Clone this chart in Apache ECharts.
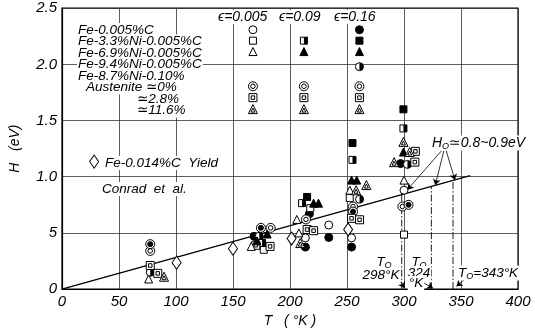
<!DOCTYPE html>
<html>
<head>
<meta charset="utf-8">
<script src="https://cdn.jsdelivr.net/npm/echarts@6/dist/echarts.min.js"></script>
<style>
html,body{margin:0;padding:0;background:#fff}
#chart{width:535px;height:333px}
</style>
</head>
<body>
<div id="chart"></div>
<script>
// T (K), H (eV)
var openCircle = [[213.5,0.456],[234,0.57],[254,0.456],[300,0.88]];
var filledCircle = [[168.5,0.47],[217,0.67],[213.5,0.374],[234,0.46],[254,0.374],[297,1.117]];
var halfCircle = [[77.4,0.15],[173,0.47],[261,0.80],[303,1.11]];
var ringCircle = [[77.4,0.34],[183,0.545],[214,0.62],[255.3,0.735],[298.6,0.735]];
var dotCircle = [[77.4,0.40],[174.5,0.545],[255.3,0.69],[304,0.75]];
var openSquare = [[177,0.35],[217.8,0.72],[252.4,0.81],[300,0.485]];
var filledSquare = [[215,0.82],[254.8,1.30],[299.5,1.60]];
var halfSquare = [[210.6,0.765],[254.8,1.15],[299.5,1.43],[175.5,0.41]];
var boxSquare = [[77.4,0.21],[84,0.14],[170,0.39],[182.5,0.38],[215,0.53],[220.7,0.52],[254,0.63],[261,0.617],[310,1.226],[309.5,1.13]];
var openTriangle = [[166,0.38],[206,0.62],[207.8,0.50],[252.5,0.88],[300,0.97],[76,0.09]];
var filledTriangle = [[180,0.49],[220.7,0.765],[225,0.765],[254,0.97],[258.5,0.97],[299.5,1.22],[171,0.43]];
var triTriangle = [[89.5,0.11],[258,0.88],[267,0.926],[291.3,1.13],[299.5,1.31],[305,1.22],[209,0.41]];
var conradYield = [[100.5,0.235],[150,0.36],[201.4,0.45],[251,0.53]];

var fitLine = [[0,0],[358,1.01]];
var t0Values = [298, 324, 343];

var xTicks = [0,50,100,150,200,250,300,350,400];
var yTickLabels = {'0':'0','0.5':'5','1':'1.0','1.5':'1.5','2':'2.0','2.5':'2.5'};

// key table: columns = strain, rows = composition
var keyColsT = [167.5, 212.2, 260.9];
var keyRowsH = [2.308, 2.211, 2.114, 1.98, 1.805, 1.704, 1.602];
var keyEntries = [
  ['openCircle',0,0],['openSquare',0,1],['openTriangle',0,2],['ringCircle',0,4],['boxSquare',0,5],['triTriangle',0,6],
  ['halfSquare',1,1],['filledTriangle',1,2],['ringCircle',1,4],['boxSquare',1,5],['triTriangle',1,6],
  ['filledCircle',2,0],['filledSquare',2,1],['filledTriangle',2,2],['halfCircle',2,3],['ringCircle',2,4],['boxSquare',2,5],['triTriangle',2,6]
];

var HALF_DISC = 'path://M0,0A10,10,0,0,1,0,20Z';
var shapes = {
  openCircle: [{s:'circle', z:8, f:'#fff'}],
  filledCircle: [{s:'circle', z:8, f:'#000'}],
  halfCircle: [{s:'circle', z:8, f:'#fff'}, {s:HALF_DISC, z:[4,8], f:'#000', off:[2,0], b:0}],
  ringCircle: [{s:'circle', z:9, f:'#fff'}, {s:'circle', z:4.5, f:'#fff'}],
  dotCircle: [{s:'circle', z:9, f:'#fff'}, {s:'circle', z:5, f:'#000'}],
  openSquare: [{s:'rect', z:7, f:'#fff'}],
  filledSquare: [{s:'rect', z:7, f:'#000'}],
  halfSquare: [{s:'rect', z:7, f:'#fff'}, {s:'rect', z:[3.5,7], f:'#000', off:[1.75,0], b:0}],
  boxSquare: [{s:'rect', z:8, f:'#fff'}, {s:'rect', z:3.5, f:'#fff'}],
  openTriangle: [{s:'triangle', z:8, f:'#fff'}],
  filledTriangle: [{s:'triangle', z:8, f:'#000'}],
  triTriangle: [{s:'triangle', z:9, f:'#fff'}, {s:'triangle', z:4, f:'#fff', off:[0,1]}],
  diamond: [{s:'diamond', z:[9,13], f:'#fff'}]
};

var dataByType = {
  openCircle: openCircle, filledCircle: filledCircle, halfCircle: halfCircle,
  ringCircle: ringCircle, dotCircle: dotCircle, openSquare: openSquare,
  filledSquare: filledSquare, halfSquare: halfSquare, boxSquare: boxSquare,
  openTriangle: openTriangle, filledTriangle: filledTriangle, triTriangle: triTriangle,
  diamond: conradYield
};

// key points grouped by type
var keyByType = {};
keyEntries.forEach(function (e) {
  (keyByType[e[0]] = keyByType[e[0]] || []).push([keyColsT[e[1]], keyRowsH[e[2]]]);
});
keyByType.diamond = [[28.2, 1.135]];

var series = [];
function addLayers(type, data) {
  shapes[type].forEach(function (l) {
    series.push({
      type: 'scatter', silent: true, data: data,
      symbol: l.s, symbolSize: l.z, symbolOffset: l.off || [0,0],
      itemStyle: {color: l.f, borderColor: '#000', borderWidth: l.b === 0 ? 0 : 1, opacity: 1},
      z: 5
    });
  });
}

// fitted line
series.push({
  type: 'line', data: fitLine, symbol: 'none', silent: true,
  lineStyle: {color: '#000', width: 1.4}, z: 3,
  markLine: {
    silent: true, symbol: ['none','arrow'], symbolSize: 6,
    label: {show: false},
    lineStyle: {color: '#000', width: 0.8, type: 'solid'},
    data: [
      [{coord:[333,1.232]},{coord:[303,0.885]}],
      [{coord:[335,1.232]},{coord:[327.4,0.926]}],
      [{coord:[337,1.232]},{coord:[344.7,0.97]}],
      [{coord:[297,0.068]},{coord:[300.5,0.008]}],
      [{coord:[316.4,0.06]},{coord:[325.5,0.008]}],
      [{coord:[358.3,0.13]},{coord:[346,0.025]}]
    ]
  }
});

// dash-dot verticals at T0, from axis up to the fitted line
t0Values.forEach(function (t) {
  var h = fitLine[1][1] * t / fitLine[1][0];
  series.push({
    type: 'line', data: [[t,0],[t,h]], symbol: 'none', silent: true,
    lineStyle: {color: '#000', width: 0.9, type: [7,2,1.5,2]}, z: 2
  });
});

Object.keys(dataByType).forEach(function (k) { addLayers(k, dataByType[k]); });
Object.keys(keyByType).forEach(function (k) { addLayers(k, keyByType[k]); });

var FONT = 'italic 13.5px "Liberation Sans", "DejaVu Sans", sans-serif';
var FONT_L = 'italic 14px "Liberation Sans", "DejaVu Sans", sans-serif';
function txt(x, y, text, opts) {
  opts = opts || {};
  return {
    type: 'text', x: x, y: y, z: 10, silent: true,
    style: {
      text: text, font: opts.font || FONT, fill: '#000',
      align: opts.align || 'left', verticalAlign: 'middle',
      backgroundColor: opts.bg === false ? null : '#fff',
      padding: [0,1],
      rich: {s: {font: 'italic 9px "Liberation Sans", sans-serif', fill: '#000', verticalAlign: 'bottom', padding: [6,0,0,0]}}
    }
  };
}

var graphics = [
  txt(77, 30, 'Fe-0.005%C'),
  txt(77, 41.5, 'Fe-3.3%Ni-0.005%C'),
  txt(77, 53, 'Fe-6.9%Ni-0.005%C'),
  txt(77, 64.5, 'Fe-9.4%Ni-0.005%C'),
  txt(77, 76, 'Fe-8.7%Ni-0.10%'),
  txt(85, 87.5, 'Austenite \u22430%'),
  txt(136, 99, '\u22432.8%'),
  txt(136, 110.5, '\u224311.6%'),
  txt(217, 17, '\u03f5=0.005', {font: FONT_L}),
  txt(278, 17, '\u03f5=0.09', {font: FONT_L}),
  txt(333, 17, '\u03f5=0.16', {font: FONT_L}),
  txt(104, 163, 'Fe-0.014%C  Yield'),
  txt(101, 189, 'Conrad  et  al.'),
  txt(431, 143, 'H{s|O}\u22430.8~0.9eV', {font: FONT_L}),
  txt(384, 262, 'T{s|O}', {align: 'center'}),
  txt(381, 275, '298\u00b0K', {align: 'center'}),
  txt(419, 262, 'T{s|O}', {align: 'center'}),
  txt(419, 273, '324', {align: 'center'}),
  txt(416, 283, '\u00b0K', {align: 'center'}),
  txt(457, 273, 'T{s|O}=343\u00b0K')
];

var chart = echarts.init(document.getElementById('chart'), null, {renderer: 'canvas'});
chart.setOption({
  animation: false,
  backgroundColor: '#fff',
  grid: {left: 57.5, right: 17, top: 8.2, bottom: 41.3, show: true, borderColor: '#000', borderWidth: 1.2, backgroundColor: '#fff'},
  xAxis: {
    type: 'value', min: 0, max: 400, interval: 50,
    name: 'T   ( \u00b0K )', nameLocation: 'middle', nameGap: 23,
    nameTextStyle: {color: '#000', fontSize: 14, fontStyle: 'italic', fontFamily: 'Liberation Sans'},
    axisLine: {show: true, lineStyle: {color: '#000', width: 1.2}},
    axisTick: {show: false},
    axisLabel: {color: '#000', fontSize: 15, fontStyle: 'italic', fontFamily: 'Liberation Sans', margin: 5,
      formatter: function (v) { return xTicks.indexOf(v) >= 0 ? String(v) : ''; }},
    splitLine: {show: true, lineStyle: {color: '#333', width: 0.8}}
  },
  yAxis: {
    type: 'value', min: 0, max: 2.5, interval: 0.5,
    name: 'H   (eV)', nameLocation: 'middle', nameGap: 40, nameRotate: 90,
    nameTextStyle: {color: '#000', fontSize: 14, fontStyle: 'italic', fontFamily: 'Liberation Sans'},
    axisLine: {show: true, lineStyle: {color: '#000', width: 1.2}},
    axisTick: {show: false},
    axisLabel: {color: '#000', fontSize: 15, fontStyle: 'italic', fontFamily: 'Liberation Sans', margin: 5,
      formatter: function (v) { return yTickLabels[String(v)] || ''; }},
    splitLine: {show: true, lineStyle: {color: '#333', width: 0.8}}
  },
  graphic: graphics,
  series: series
});
</script>
</body>
</html>
